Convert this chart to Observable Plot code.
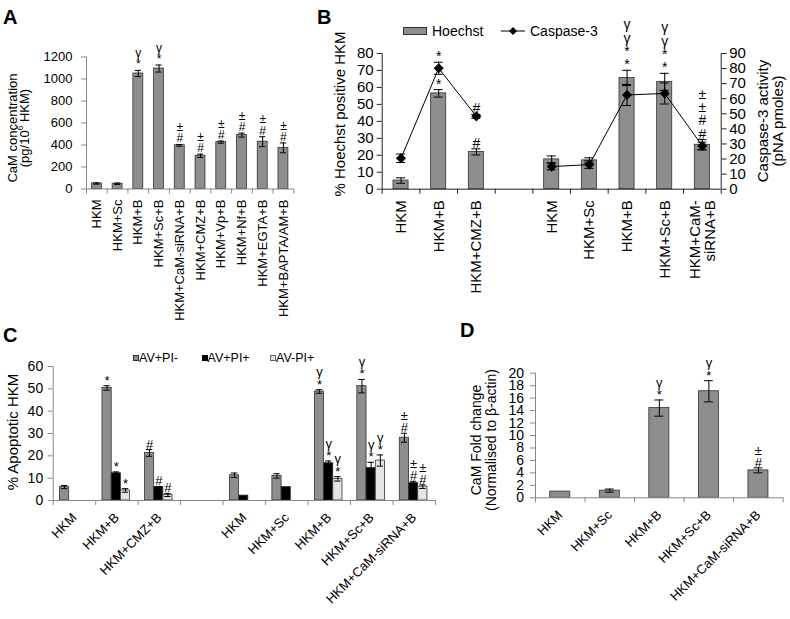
<!DOCTYPE html>
<html>
<head>
<meta charset="utf-8">
<script src="https://cdn.jsdelivr.net/npm/d3@7"></script>
<script src="https://cdn.jsdelivr.net/npm/@observablehq/plot@0.6"></script>
<style>
  html,body{margin:0;padding:0;background:#fff;}
  #fig{position:relative;width:790px;height:619px;overflow:hidden;background:#fff;font-family:"Liberation Sans",Arial,Helvetica,sans-serif;color:#000;}
  .pnl{position:absolute;}
  .pnl svg{overflow:visible;display:block;}
  .t{position:absolute;white-space:nowrap;line-height:1;}
  .r{transform:translate(-50%,-50%) rotate(-90deg);text-align:center;}
  sup{font-size:65%;line-height:0;}
</style>
</head>
<body>
<div id="fig"></div>
<script>
// ---------- Panel A ----------
const catsA = ["HKM","HKM+Sc","HKM+B","HKM+Sc+B","HKM+CaM-siRNA+B","HKM+CMZ+B","HKM+Vp+B","HKM+Nf+B","HKM+EGTA+B","HKM+BAPTA/AM+B"];
const valsA = [50, 48, 1050, 1095, 397, 302, 426, 490, 430, 374];
const errA  = [6, 6, 28, 32, 8, 15, 10, 18, 45, 45];
const sigA  = ["", "", "γ\n*", "γ\n*", "±\n#", "±\n#", "±\n#", "±\n#", "±\n#", "±\n#"];
const ticksA = [0, 200, 400, 600, 800, 1000, 1200];

// ---------- Panel B ----------
const catsB = ["HKM","HKM+B","HKM+CMZ+B","","HKM","HKM+Sc","HKM+B","HKM+Sc+B","HKM+CaM-\nsiRNA+B"];
const hoechst    = [5.1, 56.5, 22, null, 17.6, 17, 65.6, 63.3, 26.2];
const hoechstErr = [1.6, 2.2, 1.8, null, 2, 1.5, 4.5, 5, 3];
const caspase    = [20.5, 80.2, 48.3, null, 15, 16.3, 62.5, 63.5, 28.7];
const caspaseErr = [2.8, 4, 1.3, null, 2.2, 2.5, 7, 7, 2.5];
const caspGroup  = [1, 1, 1, null, 2, 2, 2, 2, 2];
const sigHoechst = ["", "*", "#", "", "", "", "γ\nγ\n*\n*", "γ\nγ\n*\n*", "±\n±\n#\n#"];
const sigCaspase = ["", "*", "#", "", "", "", "", "", ""];
const ticksBLeft  = [0,10,20,30,40,50,60,70,80];
const ticksBRight = [0,10,20,30,40,50,60,70,80,90];

// ---------- Panel C ----------
const catsC = ["HKM","HKM+B","HKM+CMZ+B","","HKM","HKM+Sc","HKM+B","HKM+Sc+B","HKM+CaM-siRNA+B"];
const seriesC = ["AV+PI-","AV+PI+","AV-PI+"];
const avPIneg    = [6, 50.4, 21.3, null, 11.3, 11, 48.8, 51.2, 28.1];
const avPInegErr = [0.7, 1, 1.5, null, 1, 1, 0.8, 3, 2];
const avPIpos    = [null, 12.2, 6, null, 2.2, 6, 16.7, 14.6, 7.8];
const avPIposErr = [null, 0.6, 0.3, null, null, null, 1, 2.5, 0.8];
const avnPIpos    = [null, 4.5, 2.5, null, null, null, 9.7, 17.9, 6.2];
const avnPIposErr = [null, 0.8, 0.7, null, null, null, 1, 2.5, 0.8];
const sigC1 = ["", "*", "#", "", "", "", "γ\n*", "γ\n*", "±\n#"];
const sigC2 = ["", "*", "#", "", "", "", "γ\n*", "γ\n*", "±\n#"];
const sigC3 = ["", "*", "#", "", "", "", "γ\n*", "γ\n*", "±\n#"];
const ticksC = [0,10,20,30,40,50,60];

// ---------- Panel D ----------
const catsD = ["HKM","HKM+Sc","HKM+B","HKM+Sc+B","HKM+CaM-siRNA+B"];
const valsD = [1, 1.15, 14.4, 17.1, 4.4];
const errD  = [null, 0.25, 1.3, 1.7, 0.4];
const sigD  = ["", "", "γ\n*", "γ\n*", "±\n#"];
const ticksD = [0,2,4,6,8,10,12,14,16,18,20];

// ---------- helpers ----------
const FONT = "'Liberation Sans', Arial, Helvetica, sans-serif";
const GRAY = "#8e8e8e", LIGHT = "#e4e4e4", EDGE = "#333", AXIS = "#878787";
const fig = document.getElementById("fig");
const plain = d => String(d);

function mount(svg, left, top, w) {
  const d = document.createElement("div");
  d.className = "pnl";
  d.style.left = left + "px"; d.style.top = top + "px"; d.style.width = w + "px";
  d.appendChild(svg); fig.appendChild(d);
}
function txt(html, {x, y, size, bold = false, rot = false, lh = 1}) {
  const d = document.createElement("div");
  d.className = "t" + (rot ? " r" : "");
  d.style.left = x + "px"; d.style.top = y + "px";
  d.style.fontSize = size + "px"; d.style.lineHeight = lh;
  if (bold) d.style.fontWeight = "bold";
  d.innerHTML = html;
  fig.appendChild(d);
  return d;
}
function errMarks(rows, xc, half, extra = {}) {
  const r = rows.filter(d => d.v != null && d.e != null);
  const st = {stroke: "#000", strokeWidth: 1, ...extra};
  return [
    Plot.ruleX(r, {x: xc, y1: d => d.v - d.e, y2: d => d.v + d.e, ...st}),
    Plot.ruleY(r, {y: d => d.v + d.e, x1: d => xc(d) - half, x2: d => xc(d) + half, ...st}),
    Plot.ruleY(r, {y: d => d.v - d.e, x1: d => xc(d) - half, x2: d => xc(d) + half, ...st})
  ];
}
const style = {background: "transparent", fontFamily: FONT, fontSize: "13px", overflow: "visible", color: "#000"};
const mid = n => d3.range(n).map(i => i + 0.5);
const edges = n => d3.range(n + 1);

// ================= Panel A =================
const dataA = catsA.map((c, i) => ({i, v: valsA[i], e: errA[i], s: sigA[i]}));
const plotA = Plot.plot({
  width: 310, height: 340,
  marginLeft: 86, marginRight: 16.7, marginTop: 56.5, marginBottom: 151.5,
  x: {domain: [0, catsA.length]}, y: {domain: [0, 1200]},
  style,
  marks: [
    Plot.rectY(dataA, {x1: d => d.i, x2: d => d.i + 1, y: "v", fill: GRAY, stroke: EDGE, strokeWidth: 0.8, insetLeft: 5.4, insetRight: 5.4}),
    ...errMarks(dataA, d => d.i + 0.5, 0.15),
    Plot.text(dataA, {x: d => d.i + 0.5, y: d => d.v + d.e, text: "s", lineAnchor: "bottom", dy: -2, fontSize: 12, lineHeight: 0.95}),
    Plot.ruleY([0], {stroke: AXIS}),
    Plot.ruleX([0], {stroke: AXIS}),
    Plot.axisY({ticks: ticksA, tickSize: 5, tickPadding: 9, tickFormat: plain, fontSize: 13, stroke: AXIS, label: null}),
    Plot.axisX({ticks: edges(catsA.length), tickSize: 5, tickFormat: () => "", stroke: AXIS, label: null}),
    Plot.axisX({ticks: mid(catsA.length), tickSize: 0, tickPadding: 10.5, tickRotate: -90, tickFormat: d => catsA[Math.floor(d)], fontSize: 13, label: null})
  ]
});
mount(plotA, 0, 0, 310);

// ================= Panel B =================
const dataB = catsB.map((c, i) => ({i, v: hoechst[i], e: hoechstErr[i], s: sigHoechst[i]})).filter(d => d.v != null);
const dataBc = catsB.map((c, i) => ({i, v: caspase[i], e: caspaseErr[i], g: caspGroup[i], s: sigCaspase[i]})).filter(d => d.v != null);
const geomB = {width: 460, height: 320, marginLeft: 51.7, marginRight: 69.3, marginTop: 53, marginBottom: 131.3};
const AX_B = "#222";
const plotB = Plot.plot({
  ...geomB,
  x: {domain: [0, catsB.length]}, y: {domain: [0, 80]},
  style,
  marks: [
    Plot.rectY(dataB, {x1: d => d.i, x2: d => d.i + 1, y: "v", fill: GRAY, stroke: EDGE, strokeWidth: 0.8, insetLeft: 11.3, insetRight: 11.3}),
    ...errMarks(dataB, d => d.i + 0.5, 0.12),
    Plot.text(dataB, {x: d => d.i + 0.5, y: d => d.v + d.e, text: "s", lineAnchor: "bottom", dy: -1, fontSize: 14, lineHeight: 0.95}),
    Plot.ruleY([0], {stroke: AX_B}),
    Plot.ruleX([0], {stroke: AX_B}),
    Plot.axisY({ticks: ticksBLeft, tickSize: 5, tickPadding: 3.5, tickFormat: plain, fontSize: 15, stroke: AX_B, label: null}),
    Plot.axisX({ticks: edges(catsB.length), tickSize: 5, tickFormat: () => "", stroke: AX_B, label: null}),
    Plot.axisX({ticks: mid(catsB.length), tickSize: 0, tickPadding: 11, tickRotate: -90, tickFormat: d => catsB[Math.floor(d)], fontSize: 15, lineHeight: 1, label: null})
  ]
});
mount(plotB, 330, 0, 460);
const plotB2 = Plot.plot({
  ...geomB,
  x: {domain: [0, catsB.length], axis: null}, y: {domain: [0, 90]},
  style,
  marks: [
    Plot.line(dataBc, {x: d => d.i + 0.5, y: "v", z: "g", stroke: "#000", strokeWidth: 1}),
    ...errMarks(dataBc, d => d.i + 0.5, 0.12),
    Plot.dot(dataBc, {x: d => d.i + 0.5, y: "v", symbol: "diamond2", r: 3.6, fill: "#000", stroke: "#000"}),
    Plot.text(dataBc, {x: d => d.i + 0.5, y: d => d.v + d.e, text: "s", lineAnchor: "bottom", dy: -1, fontSize: 14}),
    Plot.ruleX([catsB.length], {stroke: AX_B}),
    Plot.axisY({anchor: "right", ticks: ticksBRight, tickSize: 5, tickPadding: 3, tickFormat: plain, fontSize: 15, stroke: AX_B, label: null})
  ]
});
mount(plotB2, 330, 0, 460);

// ================= Panel C =================
const valsC = [avPIneg, avPIpos, avnPIpos], errsC = [avPInegErr, avPIposErr, avnPIposErr], sigsC = [sigC1, sigC2, sigC3];
const dataC = [];
seriesC.forEach((s, k) => catsC.forEach((c, i) => {
  if (valsC[k][i] != null) dataC.push({i, s, v: valsC[k][i], e: errsC[k][i], t: sigsC[k][i]});
}));
const inner = d3.scaleBand().domain(seriesC).range([0.16, 0.81]);
const cx = d => d.i + inner(d.s) + inner.bandwidth() / 2;
const plotC = Plot.plot({
  width: 450, height: 299,
  marginLeft: 52.7, marginRight: 15, marginTop: 46, marginBottom: 119,
  x: {domain: [0, catsC.length]}, y: {domain: [0, 60]},
  color: {type: "ordinal", domain: seriesC, range: [GRAY, "#000", LIGHT]},
  style,
  marks: [
    Plot.rectY(dataC, {x1: d => d.i + inner(d.s), x2: d => d.i + inner(d.s) + inner.bandwidth(), y: "v", fill: "s", stroke: EDGE, strokeWidth: 0.8}),
    ...errMarks(dataC, cx, 0.075),
    Plot.text(dataC, {x: cx, y: d => d.v + d.e, text: "t", lineAnchor: "bottom", dy: -1, fontSize: 13, lineHeight: 0.95}),
    Plot.ruleY([0], {stroke: AXIS}),
    Plot.ruleX([0], {stroke: AXIS}),
    Plot.axisY({ticks: ticksC, tickSize: 5, tickPadding: 5, tickFormat: plain, fontSize: 14, stroke: AXIS, label: null}),
    Plot.axisX({ticks: edges(catsC.length), tickSize: 5, tickFormat: () => "", stroke: AXIS, label: null}),
    Plot.axisX({ticks: mid(catsC.length), tickSize: 0, tickPadding: 15, tickRotate: -45, tickFormat: d => catsC[Math.floor(d)], fontSize: 13, label: null})
  ]
});
mount(plotC, 0, 320, 450);

// ================= Panel D =================
const dataD = catsD.map((c, i) => ({i, v: valsD[i], e: errD[i], s: sigD[i]}));
const plotD = Plot.plot({
  width: 340, height: 299,
  marginLeft: 85, marginRight: 7.3, marginTop: 52.7, marginBottom: 121.7,
  x: {domain: [0, catsD.length]}, y: {domain: [0, 20]},
  style,
  marks: [
    Plot.rectY(dataD, {x1: d => d.i, x2: d => d.i + 1, y: "v", fill: GRAY, stroke: EDGE, strokeWidth: 0.8, insetLeft: 14.75, insetRight: 14.75}),
    ...errMarks(dataD, d => d.i + 0.5, 0.09),
    Plot.text(dataD, {x: d => d.i + 0.5, y: d => d.v + (d.e || 0), text: "s", lineAnchor: "bottom", dy: -1, fontSize: 13, lineHeight: 0.95}),
    Plot.ruleY([0], {stroke: AXIS}),
    Plot.ruleX([0], {stroke: AXIS}),
    Plot.axisY({ticks: ticksD, tickSize: 5, tickPadding: 6.5, tickFormat: plain, fontSize: 14, stroke: AXIS, label: null}),
    Plot.axisX({ticks: edges(catsD.length), tickSize: 5, tickFormat: () => "", stroke: AXIS, label: null}),
    Plot.axisX({ticks: mid(catsD.length), tickSize: 0, tickPadding: 15, tickRotate: -45, tickFormat: d => catsD[Math.floor(d)], fontSize: 13, label: null})
  ]
});
mount(plotD, 450, 320, 340);

// ================= texts: panel letters, axis titles, legends =================
txt("A", {x: 3, y: 7, size: 20, bold: true});
txt("B", {x: 317, y: 7, size: 20, bold: true});
txt("C", {x: 3, y: 325, size: 20, bold: true});
txt("D", {x: 460, y: 320, size: 20, bold: true});

txt("CaM concentration<br>(pg/10<sup>6</sup> HKM)", {x: 19, y: 128, size: 13, rot: true, lh: 0.95});
txt("% Hoechst positive HKM", {x: 339, y: 114, size: 15, rot: true});
txt("Caspase-3 activity<br>(pNA pmoles)", {x: 770, y: 121, size: 15, rot: true, lh: 1.03});
txt("% Apoptotic HKM", {x: 11.7, y: 432, size: 15, rot: true});
txt("CaM Fold change<br>(Normalised to β-actin)", {x: 484, y: 440, size: 14, rot: true, lh: 1.07});

// Panel B legend
(function () {
  const sw = document.createElement("div");
  Object.assign(sw.style, {position: "absolute", left: "403px", top: "27px", width: "24px", height: "8px", background: GRAY, border: "1px solid #333", boxSizing: "border-box"});
  fig.appendChild(sw);
  txt("Hoechst", {x: 432, y: 24.2, size: 14});
  const ns = "http://www.w3.org/2000/svg";
  const s = document.createElementNS(ns, "svg");
  s.setAttribute("width", 26); s.setAttribute("height", 12);
  Object.assign(s.style, {position: "absolute", left: "500px", top: "25px"});
  s.innerHTML = '<line x1="1" y1="6" x2="25" y2="6" stroke="#000" stroke-width="1"/><path d="M13,2 L17,6 L13,10 L9,6Z" fill="#000"/>';
  fig.appendChild(s);
  txt("Caspase-3", {x: 530, y: 24.2, size: 14});
})();

// Panel C legend
(function () {
  const items = [[133, GRAY, "#333"], [201.5, "#000", "#000"], [270, LIGHT, "#666"]];
  items.forEach(([x, f, st], k) => {
    const sw = document.createElement("div");
    Object.assign(sw.style, {position: "absolute", left: x + "px", top: "355px", width: "6px", height: "6px", background: f, border: "1px solid " + st, boxSizing: "border-box"});
    fig.appendChild(sw);
    txt(seriesC[k], {x: x + 6, y: 352, size: 12.5});
  });
})();
</script>
</body>
</html>
